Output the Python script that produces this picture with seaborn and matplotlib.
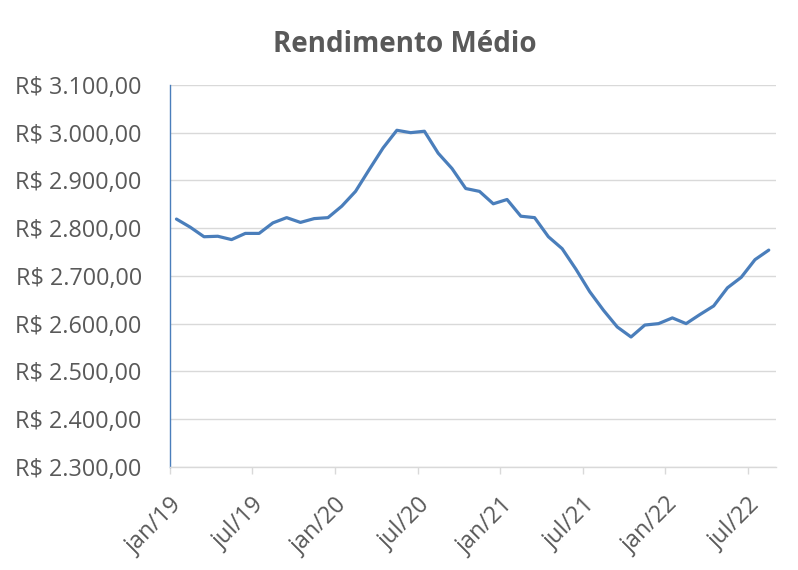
import matplotlib
matplotlib.use("Agg")
import matplotlib.pyplot as plt
import matplotlib.ticker as mticker
import matplotlib.transforms as mtrans
import seaborn as sns
import pandas as pd

# monthly average income, jan/19 .. aug/22
months = ["jan", "fev", "mar", "abr", "mai", "jun", "jul", "ago", "set", "out", "nov", "dez"]
years = ["19", "20", "21", "22"]
rendimento = [
    2819, 2802, 2782, 2783, 2776, 2789, 2789, 2811, 2822, 2812, 2820, 2822,
    2846, 2877, 2923, 2968, 3005, 3000, 3003, 2957, 2925, 2883, 2877, 2851,
    2860, 2825, 2822, 2782, 2757, 2714, 2667, 2628, 2593, 2572, 2597, 2600,
    2612, 2600, 2619, 2637, 2675, 2697, 2734, 2754,
]
periodos = [f"{m}/{y}" for y in years for m in months][:len(rendimento)]
tick_labels = ["jan/19", "jul/19", "jan/20", "jul/20", "jan/21", "jul/21", "jan/22", "jul/22"]
y_ticks = [2300, 2400, 2500, 2600, 2700, 2800, 2900, 3000, 3100]

df = pd.DataFrame({"periodo": periodos, "rendimento": rendimento})
df["pos"] = range(len(df))

sns.set_style("white")
plt.rcParams["font.family"] = ["Open Sans", "DejaVu Sans"]

fig = plt.figure(figsize=(7.98, 5.70), dpi=100)
ax = fig.add_axes([0.2125, 0.181, 0.7595, 0.670])

sns.lineplot(data=df, x="pos", y="rendimento", ax=ax, color="#4a7ebb", linewidth=2.3)

ax.set_xlim(-0.5, len(df) - 0.5)
ax.set_ylim(2300, 3100)
ax.set_yticks(y_ticks)
ax.yaxis.set_major_formatter(mticker.FuncFormatter(
    lambda v, p: "R$ " + f"{v:,.2f}".replace(",", "X").replace(".", ",").replace("X", ".")))

tick_pos = [periodos.index(t) - 0.5 for t in tick_labels]
ax.set_xticks(tick_pos)
ax.set_xticklabels(tick_labels, rotation=45, ha="right", rotation_mode="anchor")
# Excel puts the rotated labels a little right of the tick marks
shift = mtrans.ScaledTranslation(10 / 100, 0, fig.dpi_scale_trans)
for lbl in ax.get_xticklabels():
    lbl.set_transform(lbl.get_transform() + shift)

ax.grid(axis="y", color="#d9d9d9", linewidth=1)
ax.set_axisbelow(True)
ax.set_xlabel("")
ax.set_ylabel("")

for s in ["top", "right"]:
    ax.spines[s].set_visible(False)
ax.spines["left"].set_color("#4a7ebb")
ax.spines["left"].set_linewidth(1)
ax.spines["bottom"].set_color("#d9d9d9")
ax.spines["bottom"].set_linewidth(1)

ax.tick_params(axis="y", length=0, pad=20, labelsize=16.8, labelcolor="#595959")
ax.tick_params(axis="x", length=5, width=1, color="#d9d9d9", direction="out",
               pad=14, labelsize=16.8, labelcolor="#595959", bottom=True)

fig.text(0.507, 0.922, "Rendimento Médio", ha="center", va="center",
         fontsize=20, fontweight="bold", color="#595959")

fig.savefig("out.png", dpi=100, facecolor="white")
